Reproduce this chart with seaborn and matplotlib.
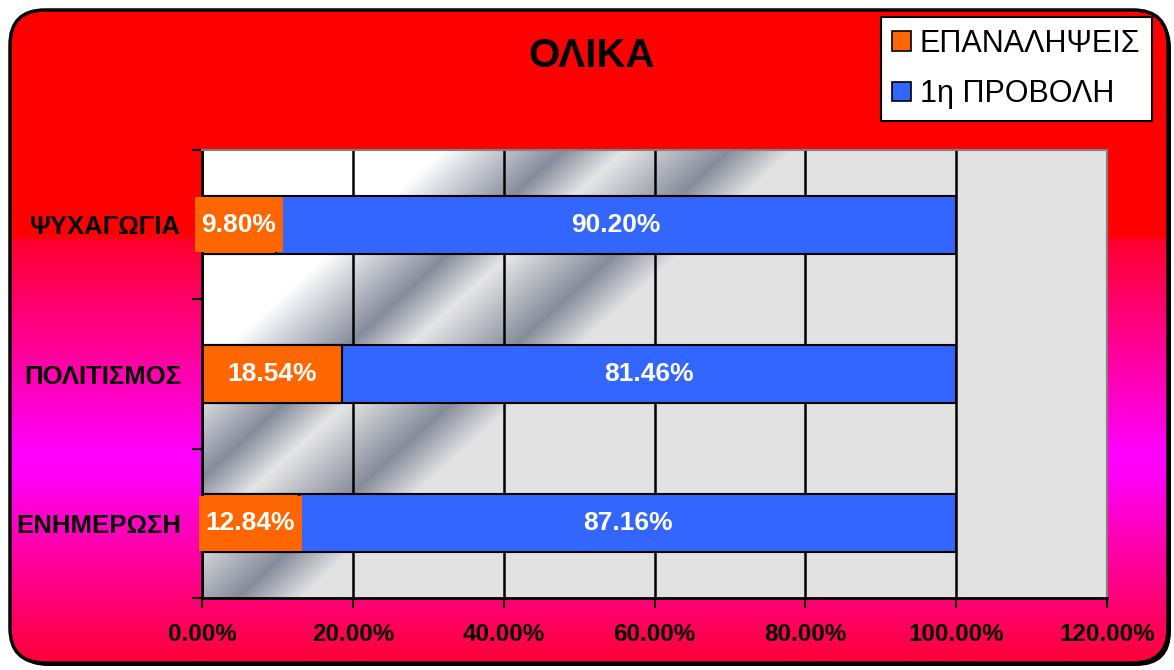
import matplotlib
matplotlib.use("Agg")
import matplotlib.pyplot as plt
import seaborn as sns
import numpy as np
from matplotlib.patches import FancyBboxPatch, Rectangle, Patch
from matplotlib.colors import to_rgb

# Δεδομένα
categories = ["ΨΥΧΑΓΩΓΙΑ", "ΠΟΛΙΤΙΣΜΟΣ", "ΕΝΗΜΕΡΩΣΗ"]
repeats = [9.80, 18.54, 12.84]       # ΕΠΑΝΑΛΗΨΕΙΣ
first_run = [90.20, 81.46, 87.16]    # 1η ΠΡΟΒΟΛΗ
series_names = ["ΕΠΑΝΑΛΗΨΕΙΣ", "1η ΠΡΟΒΟΛΗ"]
x_ticks = [0, 20, 40, 60, 80, 100, 120]

ORANGE = "#FF6600"
BLUE = "#3366FF"

sns.set_theme(style="white")
plt.rcParams["font.family"] = ["Liberation Sans", "DejaVu Sans"]
plt.rcParams["text.color"] = "black"
plt.rcParams["xtick.color"] = "black"
plt.rcParams["ytick.color"] = "black"
plt.rcParams["axes.labelcolor"] = "black"

W, H = 1174, 670
fig = plt.figure(figsize=(W / 100, H / 100), dpi=100)
fig.patch.set_facecolor("white")


def ramp(t, stops):
    pos = [s[0] for s in stops]
    cols = np.array([to_rgb(s[1]) for s in stops])
    return np.stack([np.interp(t, pos, cols[:, k]) for k in range(3)], axis=-1)


# φόντο: κάθετη διαβάθμιση κόκκινο -> ματζέντα -> ροζ, με στρογγυλεμένο πλαίσιο
bg = fig.add_axes([0, 0, 1, 1], zorder=-10)
bg.set_xlim(0, W)
bg.set_ylim(H, 0)
bg.axis("off")
grad = ramp(np.linspace(0, 1, H), [(0, "#FF0000"), (0.35, "#FF0000"), (0.36, "#FF0030"),
                                   (0.68, "#FF00FF"), (0.72, "#FF00F0"), (0.88, "#FF0080"),
                                   (1, "#FF0030")])
img = np.repeat(grad[:, None, :], 2, axis=1)
box_style = "round,pad=0,rounding_size=35"
bg.add_patch(FancyBboxPatch((13, 13), 1158, 653, boxstyle=box_style, fc="black", ec="none"))
frame = FancyBboxPatch((10, 10), 1158, 653, boxstyle=box_style, fc="none", ec="black", lw=2.5, zorder=5)
bg.add_patch(frame)
im = bg.imshow(img, extent=(0, W, H, 0), aspect="auto", interpolation="bilinear", zorder=1)
im.set_clip_path(frame)

# κύριος άξονας
ax = fig.add_axes([202 / W, 1 - 598 / H, 905 / W, 448 / H])

# διαγώνια "χρωμέ" διαβάθμιση της περιοχής σχεδίασης
yy, xx = np.mgrid[0:448, 0:905]
area = ramp(xx + 1.1 * yy, [(0, "#FFFFFF"), (240, "#FFFFFF"), (360, "#878C9C"), (422, "#E6E6E6"),
                            (527, "#878C9C"), (590, "#E2E2E2"), (3000, "#E2E2E2")])
ax.imshow(area, extent=(0, 120, 2.5, -0.5), aspect="auto", zorder=0, interpolation="bilinear")

totals = [a + b for a, b in zip(repeats, first_run)]
sns.barplot(x=totals, y=categories, orient="y", color=BLUE, saturation=1, width=0.39,
            edgecolor="black", linewidth=1.5, ax=ax)
sns.barplot(x=repeats, y=categories, orient="y", color=ORANGE, saturation=1, width=0.39,
            edgecolor="black", linewidth=1.5, ax=ax)

ax.set_axisbelow(True)
ax.xaxis.grid(True, color="black", lw=1.8)
ax.yaxis.grid(False)
ax.set_xlim(0, 120)
ax.set_ylim(2.5, -0.5)
ax.set_xlabel("")
ax.set_ylabel("")

ax.set_xticks(x_ticks)
ax.set_xticklabels([f"{v:.2f}%" for v in x_ticks], fontsize=17.5, fontweight="bold", color="black")
ax.set_yticks(range(len(categories)))
ax.set_yticklabels(categories, fontsize=18.5, fontweight="bold", color="black")
ax.set_yticks([-0.5, 0.5, 1.5, 2.5], minor=True)
ax.tick_params(axis="x", bottom=True, length=7, width=1.5, color="black", pad=11)
ax.tick_params(axis="y", which="major", left=True, length=0, pad=15)
ax.tick_params(axis="y", which="minor", left=True, length=7, width=1.5, color="black")

for side in ["left", "bottom"]:
    ax.spines[side].set_color("black")
    ax.spines[side].set_linewidth(2)
for side in ["top", "right"]:
    ax.spines[side].set_color("#808080")
    ax.spines[side].set_linewidth(1.5)

# ετικέτες τιμών
label_kw = dict(color="white", fontsize=19, fontweight="bold", ha="center", va="center", zorder=4)
rep_texts = []
for i, (a, b) in enumerate(zip(repeats, first_run)):
    rep_texts.append(ax.text(a / 2, i, f"{a:.2f}%", **label_kw))
    ax.text(a + b / 2, i, f"{b:.2f}%", **label_kw)

# τίτλος και υπόμνημα
fig.text(592 / W, 1 - 56 / H, "ΟΛΙΚΑ", fontsize=29, fontweight="bold", ha="center", va="center",
         color="black")
handles = [Patch(facecolor=ORANGE, edgecolor="black", lw=1.2, label=series_names[0]),
           Patch(facecolor=BLUE, edgecolor="black", lw=1.2, label=series_names[1])]
leg = fig.legend(handles=handles, loc="upper right", bbox_to_anchor=(1152 / W, 1 - 17 / H),
                 frameon=True, fancybox=False, edgecolor="black", framealpha=1, fontsize=22,
                 handlelength=0.6, handleheight=0.6, handletextpad=0.3, borderpad=0.38,
                 labelspacing=0.68, borderaxespad=0)
leg.get_frame().set_linewidth(1.5)
for t in leg.get_texts():
    t.set_color("black")

# πορτοκαλί φόντο ετικετών όταν το κείμενο δεν χωράει στο τμήμα
fig.canvas.draw()
rend = fig.canvas.get_renderer()
to_data = ax.transData.inverted()
for i, (txt, a) in enumerate(zip(rep_texts, repeats)):
    bb = txt.get_window_extent(rend)
    x0 = to_data.transform((bb.x0 - 7, 0))[0]
    x1 = to_data.transform((bb.x1 + 7, 0))[0]
    if x0 < 0 or x1 > a:
        ax.add_patch(Rectangle((x0, i - 0.185), x1 - x0, 0.37, fc=ORANGE, ec="none",
                               zorder=3, clip_on=False))

fig.savefig("out.png", dpi=100)
